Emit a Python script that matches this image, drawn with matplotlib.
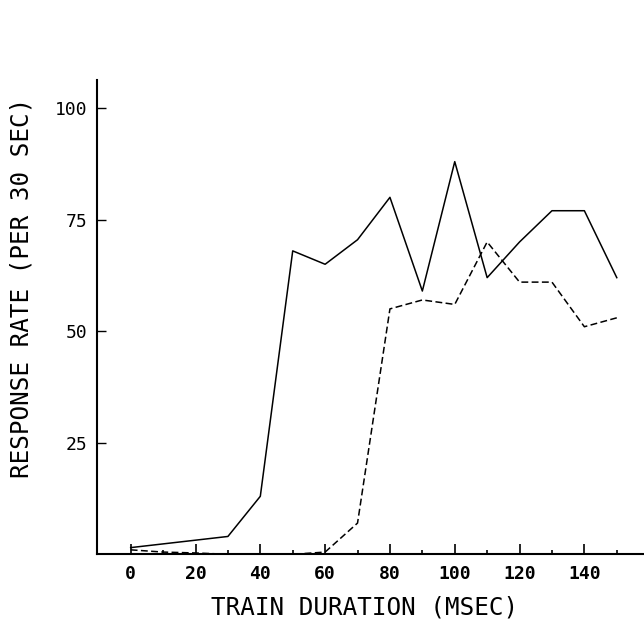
import matplotlib
matplotlib.use("Agg")
import matplotlib.pyplot as plt
from matplotlib.ticker import MultipleLocator, FixedLocator

plt.rcParams['font.family'] = ['DejaVu Sans Mono', 'DejaVu Sans']

# solid curve
solid_x = [0, 30, 40, 50, 60, 70, 80, 90, 100, 110, 120, 130, 140, 150]
solid_y = [1.5, 4, 13, 68, 65, 70.5, 80, 59, 88, 62, 70, 77, 77, 62]

# dashed curve
dashed_x = [0, 10, 20, 30, 40, 50, 60, 70, 80, 90, 100, 110, 120, 130, 140, 150]
dashed_y = [1, 0.5, 0.3, 0, 0, 0, 0.5, 7, 55, 57, 56, 70, 61, 61, 51, 53]

x_ticks = [0, 20, 40, 60, 80, 100, 120, 140]
y_ticks = [25, 50, 75, 100]

fig = plt.figure(figsize=(6.44, 6.21), dpi=100)
ax = fig.add_axes([0.1506, 0.1074, 0.8494, 0.7638])

ax.plot(solid_x, solid_y, color='black', lw=1.1)
ax.plot(dashed_x, dashed_y, color='black', lw=1.1, dashes=(4.5, 2.2))

ax.set_xlim(-10.4, 158.4)
ax.set_ylim(0, 106.3)

for s in ['top', 'right']:
    ax.spines[s].set_visible(False)
for s in ['left', 'bottom']:
    ax.spines[s].set_linewidth(1.5)

ax.xaxis.set_major_locator(FixedLocator(x_ticks))
ax.xaxis.set_minor_locator(FixedLocator([10, 30, 50, 70, 90, 110, 130, 150]))
ax.yaxis.set_major_locator(FixedLocator(y_ticks))
ax.set_xticklabels([str(v) for v in x_ticks], fontsize=13, fontweight='bold')
ax.set_yticklabels([str(v) for v in y_ticks], fontsize=13)

ax.tick_params(axis='x', which='major', direction='in', length=7, width=1.2, pad=8)
ax.tick_params(axis='x', which='minor', direction='in', length=3, width=1.2)
ax.tick_params(axis='y', which='major', direction='in', length=6.5, width=1.0, pad=7)

fig.text(365 / 644, 14 / 621, 'TRAIN DURATION (MSEC)', fontsize=17.5,
         ha='center', va='center')
fig.text(22 / 644, 333 / 621, 'RESPONSE RATE (PER 30 SEC)', fontsize=17.5,
         rotation=90, ha='center', va='center')

fig.savefig('out.png', dpi=100)
